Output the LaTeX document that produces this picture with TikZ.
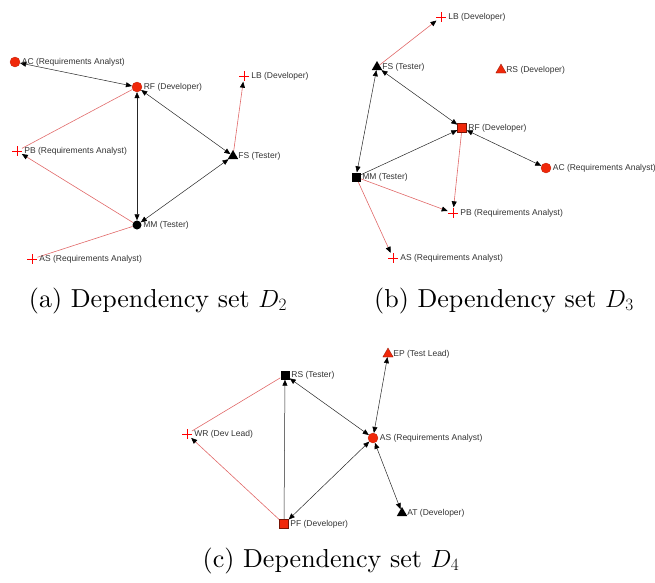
\documentclass[tikz,border=0pt]{standalone}
\usepackage{fontspec}
\newfontfamily\lblfont{Liberation Sans}
\newfontfamily\capfont{lmroman10-regular.otf}
\usetikzlibrary{arrows.meta,shapes.geometric,backgrounds}
\definecolor{mred}{RGB}{240,40,10}
\definecolor{ered}{RGB}{225,105,105}
\tikzset{
  lbl/.style={font=\lblfont\fontsize{8.5}{10}\selectfont, text=black!80, inner sep=0pt},
  lab/.style={label={[lbl,label distance=1.5pt]0:#1}},
  rcirc/.style={circle, fill=mred, draw=mred!80!black, line width=.3pt, minimum size=10pt, inner sep=0pt},
  bcirc/.style={circle, fill=black, minimum size=9pt, inner sep=0pt},
  btri/.style={regular polygon, regular polygon sides=3, fill=black, minimum size=12pt, inner sep=0pt},
  rtri/.style={regular polygon, regular polygon sides=3, fill=mred, draw=mred!60!black, line width=.3pt, minimum size=12pt, inner sep=0pt},
  rsq/.style={rectangle, fill=mred, draw=mred!50!black, line width=.4pt, minimum size=9pt, inner sep=0pt},
  bsq/.style={rectangle, fill=black, minimum size=9pt, inner sep=0pt},
  crossmark/.style={circle, minimum size=11pt, inner sep=0pt,
    path picture={\draw[red, line width=.8pt]
      ([yshift=-.5pt]path picture bounding box.north) -- ([yshift=.5pt]path picture bounding box.south)
      ([xshift=-.5pt]path picture bounding box.east) -- ([xshift=.5pt]path picture bounding box.west);}},
  bl/.style={draw=black!85, line width=.5pt},
  rl/.style={draw=ered, line width=.6pt},
  >={Triangle[length=6pt,width=5pt,color=black]},
  captext/.style={font=\capfont\fontsize{26}{30}\selectfont, anchor=base, inner sep=0pt},
}
\begin{document}
\begin{tikzpicture}[x=1pt,y=1pt]
\useasboundingbox (0,0) rectangle (655,-582);
% ---------- (a) ----------
\node[rcirc, lab={AC (Requirements Analyst)}] (aAC) at (15,-62) {};
\node[rcirc, lab={RF (Developer)}] (aRF) at (137,-87) {};
\node[crossmark, lab={LB (Developer)}] (aLB) at (244,-76) {};
\node[crossmark, lab={PB (Requirements Analyst)}] (aPB) at (17,-151) {};
\node[btri, lab={FS (Tester)}] (aFS) at (233,-156) {};
\node[bcirc, lab={MM (Tester)}] (aMM) at (137,-225) {};
\node[crossmark, lab={AS (Requirements Analyst)}] (aAS) at (32,-259) {};
% ---------- (b) ----------
\node[crossmark, lab={LB (Developer)}] (bLB) at (441,-17) {};
\node[btri, lab={FS (Tester)}] (bFS) at (377,-67) {};
\node[rtri, lab={RS (Developer)}] (bRS) at (501,-70) {};
\node[rsq, lab={RF (Developer)}] (bRF) at (462,-128) {};
\node[rcirc, lab={AC (Requirements Analyst)}] (bAC) at (546,-168) {};
\node[bsq, lab={MM (Tester)}] (bMM) at (356,-177) {};
\node[crossmark, lab={PB (Requirements Analyst)}] (bPB) at (453,-213) {};
\node[crossmark, lab={AS (Requirements Analyst)}] (bAS) at (393,-258) {};
% ---------- (c) ----------
\node[rtri, lab={EP (Test Lead)}] (cEP) at (388,-354) {};
\node[bsq, lab={RS (Tester)}] (cRS) at (285,-375) {};
\node[crossmark, lab={WR (Dev Lead)}] (cWR) at (187,-434) {};
\node[rcirc, lab={AS (Requirements Analyst)}] (cAS) at (373,-438) {};
\node[btri, lab={AT (Developer)}] (cAT) at (402,-513) {};
\node[rsq, lab={PF (Developer)}] (cPF) at (284,-524) {};
% ---------- edges ----------
\begin{scope}[on background layer]
\draw[bl,<->] (aAC) -- (aRF);
\draw[bl,<->] (aRF) -- (aFS);
\draw[bl,<->] (aRF) -- (aMM);
\draw[bl,<->] (aMM) -- (aFS);
\draw[rl] (aRF) -- (aPB);
\draw[rl,->] (aMM) -- (aPB);
\draw[rl] (aMM) -- (aAS);
\draw[rl,->] (aFS) -- (aLB);
\draw[rl,->] (bFS) -- (bLB);
\draw[bl,<->] (bFS) -- (bRF);
\draw[bl,<->] (bFS) -- (bMM);
\draw[bl,->] (bMM) -- (bRF);
\draw[bl,<->] (bRF) -- (bAC);
\draw[rl,->] (bRF) -- (bPB);
\draw[rl,->] (bMM) -- (bPB);
\draw[rl,->] (bMM) -- (bAS);
\draw[bl,<->] (cEP) -- (cAS);
\draw[bl,<->] (cRS) -- (cAS);
\draw[rl] (cRS) -- (cWR);
\draw[bl,->] (cPF) -- (cRS);
\draw[bl,<->] (cPF) -- (cAS);
\draw[rl,->] (cPF) -- (cWR);
\draw[bl,<->] (cAS) -- (cAT);
\end{scope}
% ---------- captions ----------
\node[captext] (capa) at (158,-307) {(a) Dependency set $D_2$};
\node[captext] (capb) at (504,-307) {(b) Dependency set $D_3$};
\node[captext] (capc) at (331,-567) {(c) Dependency set $D_4$};
\end{tikzpicture}
\end{document}
